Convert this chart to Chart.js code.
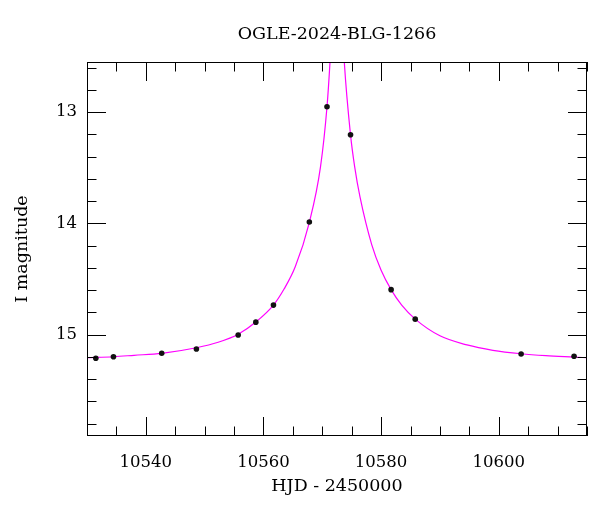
<!DOCTYPE html>
<html>
<head>
<meta charset="utf-8">
<script src="https://cdn.jsdelivr.net/npm/chart.js@4.4.1/dist/chart.umd.min.js"></script>
<style>
    body { margin: 0; background: #fff; }
    #wrap { width: 600px; height: 512px; }
</style>
</head>
<body>
<div id="wrap"><canvas id="lightCurve"></canvas></div>
<script>

// ---------------- DATA ----------------

// observed points (HJD - 2450000, I mag)
const obsHjd = [10531.5, 10534.5, 10542.7, 10548.6, 10555.7, 10558.7, 10561.7,
                10567.8, 10570.8, 10574.8, 10581.7, 10585.8, 10603.8, 10612.8];
const obsMag = [15.212, 15.198, 15.167, 15.128, 15.002, 14.887, 14.734,
                13.988, 12.952, 13.203, 14.595, 14.860, 15.173, 15.194];

// model curve (peak goes off the top of the frame)
const modelHjd = [10530, 10534.5, 10538, 10542.7, 10548.6, 10552.3, 10555.7, 10558.7,
                  10561.7, 10563.5, 10565.4, 10567.8, 10569.7, 10570.8, 10571.3,
                  10572.55,
                  10573.74, 10574.8, 10575.5, 10576.4, 10578.4, 10580, 10581.7,
                  10583.5, 10585.8, 10590, 10594.6, 10599, 10603.8, 10608, 10612.8, 10615];
const modelMag = [15.207, 15.198, 15.185, 15.167, 15.117, 15.068, 14.996, 14.886,
                  14.734, 14.59, 14.39, 13.99, 13.49, 12.952, 12.56,
                  11.3,
                  12.55, 13.205, 13.49, 13.76, 14.19, 14.42, 14.595,
                  14.735, 14.86, 15.01, 15.092, 15.14, 15.171, 15.188, 15.201, 15.207];

const xTicks = [10540, 10560, 10580, 10600];
const yTicks = [13, 14, 15];

const FONT = "'DejaVu Serif', serif";

// ---------------- FRAME + INWARD TICKS ----------------

const framePlugin = {
    id: "frame",
    afterDatasetsDraw(chart) {
        const { ctx, chartArea: a, scales: { x, y } } = chart;
        ctx.save();
        ctx.strokeStyle = "#000";
        ctx.lineWidth = 1;
        ctx.beginPath();

        // x ticks, every 5 days
        for (let v = 10530; v <= 10615; v += 5) {
            const px = Math.round(x.getPixelForValue(v)) + 0.5;
            const len = xTicks.includes(v) ? 19 : 9.5;
            ctx.moveTo(px, a.top); ctx.lineTo(px, a.top + len);
            ctx.moveTo(px, a.bottom); ctx.lineTo(px, a.bottom - len);
        }

        // y ticks, every 0.2 mag
        for (let i = 63; i <= 79; i++) {
            const v = i / 5;
            const py = Math.round(y.getPixelForValue(v)) + 0.5;
            const len = (i % 5 === 0) ? 19 : 9.5;
            ctx.moveTo(a.left, py); ctx.lineTo(a.left + len, py);
            ctx.moveTo(a.right, py); ctx.lineTo(a.right - len, py);
        }

        ctx.stroke();
        ctx.strokeRect(Math.round(a.left) + 0.5, Math.round(a.top) + 0.5,
                       Math.round(a.width) - 1, Math.round(a.height) - 1);
        ctx.restore();
    }
};

// ---------------- CHART ----------------

new Chart(
    document.getElementById("lightCurve"),
    {
        type: "scatter",

        data: {
            datasets: [
                {
                    label: "OGLE",
                    data: obsHjd.map((t, i) => ({ x: t, y: obsMag[i] })),
                    pointRadius: 2.8,
                    pointBackgroundColor: "#111",
                    pointBorderWidth: 0,
                    showLine: false
                },
                {
                    label: "model",
                    data: modelHjd.map((t, i) => ({ x: t, y: modelMag[i] })),
                    showLine: true,
                    pointRadius: 0,
                    borderColor: "#ff00ff",
                    borderWidth: 1.2,
                    cubicInterpolationMode: "monotone"
                }
            ]
        },

        options: {
            responsive: true,
            maintainAspectRatio: false,
            animation: false,
            layout: { padding: { top: 0, left: 0, right: 13, bottom: 0 } },

            plugins: {
                legend: { display: false },
                tooltip: { enabled: false },
                title: {
                    display: true,
                    fullSize: false,
                    text: "OGLE-2024-BLG-1266",
                    color: "#000",
                    font: { family: FONT, size: 17.5, weight: "normal" },
                    padding: { top: 24, bottom: 17 }
                }
            },

            scales: {
                x: {
                    type: "linear",
                    min: 10530,
                    max: 10615,
                    grid: { display: false, drawTicks: false },
                    border: { display: false },
                    afterBuildTicks: s => { s.ticks = xTicks.map(v => ({ value: v })); },
                    afterFit: s => { s.height = 76; },
                    ticks: {
                        color: "#000",
                        padding: 17,
                        maxRotation: 0,
                        font: { family: FONT, size: 16.5 },
                        callback: v => String(v)
                    },
                    title: {
                        display: true,
                        text: "HJD - 2450000",
                        color: "#000",
                        font: { family: FONT, size: 17.5 },
                        padding: { top: 0, bottom: 15 }
                    }
                },
                y: {
                    type: "linear",
                    reverse: true,
                    min: 12.55,
                    max: 15.91,
                    grid: { display: false, drawTicks: false },
                    border: { display: false },
                    afterBuildTicks: s => { s.ticks = yTicks.map(v => ({ value: v })); },
                    afterFit: s => { s.width = 87; },
                    ticks: {
                        color: "#000",
                        padding: 10,
                        font: { family: FONT, size: 16.5 },
                        callback: v => String(v)
                    },
                    title: {
                        display: true,
                        text: "I magnitude",
                        color: "#000",
                        font: { family: FONT, size: 17.5 },
                        padding: { top: 12, bottom: 0 }
                    }
                }
            }
        },

        plugins: [framePlugin]
    }
);

</script>
</body>
</html>
